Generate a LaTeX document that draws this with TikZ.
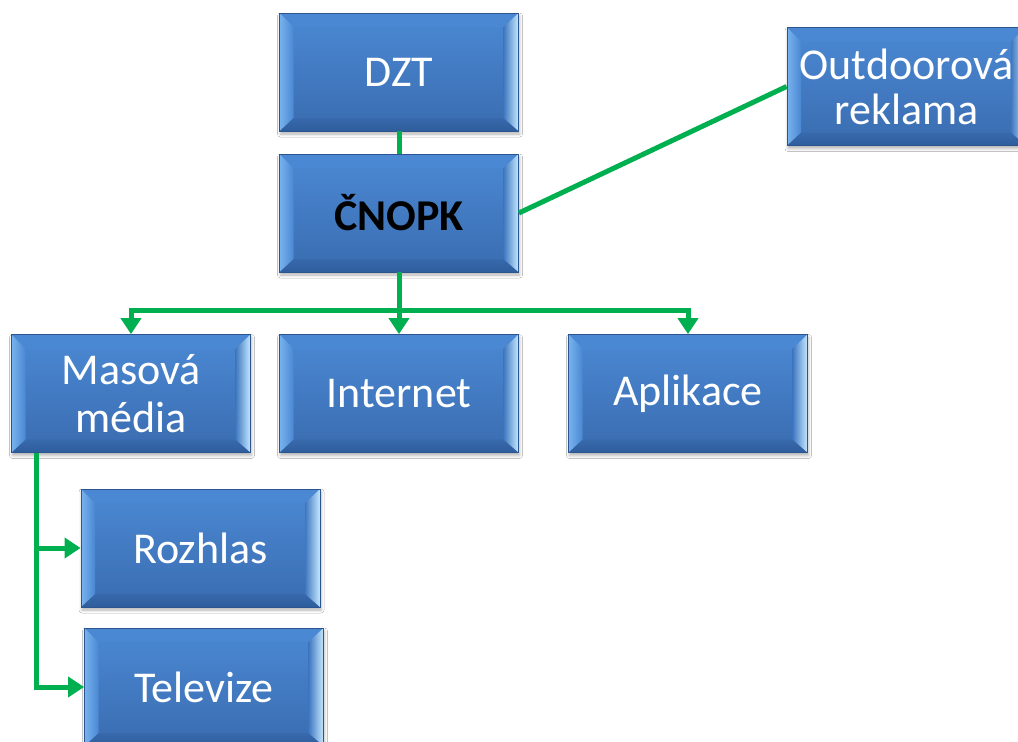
\documentclass[tikz,border=0pt]{standalone}
\usepackage{fontspec}
\setmainfont{Carlito}
\usetikzlibrary{arrows.meta,calc,shadows.blur}
\definecolor{faceT}{HTML}{4B89D4}
\definecolor{faceB}{HTML}{3A6CB0}
\definecolor{edgeC}{HTML}{2C558F}
\definecolor{bevTop}{HTML}{4A88D3}
\definecolor{bevBot}{HTML}{2E5D9C}
\definecolor{bevLo}{HTML}{78B3EE}
\definecolor{bevLi}{HTML}{4A87D2}
\definecolor{bevRi}{HTML}{3F77C0}
\definecolor{bevRm}{HTML}{8CC8FA}
\definecolor{bevRo}{HTML}{C4E8FF}
\definecolor{conn}{HTML}{00B050}
\tikzset{
  bevelbox/.style={rectangle, inner sep=0pt, minimum width=239pt, minimum height=118pt,
    align=center, text=white, font=\fontsize{44}{48}\selectfont,
    top color=faceT, bottom color=faceB, draw=edgeC, line width=0.8pt,
    blur shadow={shadow xshift=1pt, shadow yshift=-3pt, shadow blur radius=3pt, shadow opacity=30},
    path picture={
      \coordinate (pSW) at (path picture bounding box.south west);
      \coordinate (pNE) at (path picture bounding box.north east);
      \coordinate (pNW) at (path picture bounding box.north west);
      \coordinate (pSE) at (path picture bounding box.south east);
      \coordinate (qSW) at ($(pSW)+(14pt,13pt)$);
      \coordinate (qNW) at ($(pNW)+(14pt,-14pt)$);
      \coordinate (qNE) at ($(pNE)+(-15pt,-14pt)$);
      \coordinate (qSE) at ($(pSE)+(-15pt,13pt)$);
      \fill[bevTop] (pNW) -- (pNE) -- (qNE) -- (qNW) -- cycle;
      \shade[top color=faceB!80!bevBot, bottom color=bevBot] (pSW) -- (pSE) -- (qSE) -- (qSW) -- cycle;
      \shade[left color=bevLo, right color=bevLi] (pSW) -- (pNW) -- (qNW) -- (qSW) -- cycle;
      \shade[left color=bevRi, middle color=bevRm, right color=bevRo] (pNE) -- (pSE) -- (qSE) -- (qNE) -- cycle;
    }},
  link/.style={draw=conn, line width=5pt},
  arr/.style={link, -{Triangle[width=20pt,length=16pt]}}
}
\begin{document}
\begin{tikzpicture}[x=1pt,y=-1pt]
\useasboundingbox (0,0) rectangle (1018,742);
\fill[white] (0,0) rectangle (1018,742);
\node[bevelbox] (DZT) at (399,72) {DZT};
\node[bevelbox, font=\fontsize{44}{48}\selectfont\bfseries, text=black] (CNOPK) at (399,213) {ČNOPK};
\node[bevelbox, font=\fontsize{44}{45}\selectfont] (OUT) at (906.5,86.5) {Outdoorová\\reklama};
\node[bevelbox] (MAS) at (131,393.5) {Masová\\média};
\node[bevelbox] (INT) at (399,393.5) {Internet};
\node[bevelbox] (APP) at (688,393.5) {Aplikace};
\node[bevelbox] (ROZ) at (200.5,548) {Rozhlas};
\node[bevelbox] (TEL) at (204,687) {Televize};
\coordinate (bus) at (399,310);
\coordinate (trunk) at (36,687);
\draw[link] (DZT.south) -- (CNOPK.north);
\draw[link] (CNOPK.east) -- (OUT.west);
\draw[link] (CNOPK.south) -- (bus);
\draw[arr] (bus) -| (MAS.north);
\draw[arr] (bus) -| (APP.north);
\draw[arr] (bus) -- (INT.north);
\draw[link] (MAS.south -| trunk) -- (trunk);
\draw[arr] (trunk |- ROZ.west) -- (ROZ.west);
\draw[arr] ([xshift=-2.5pt]trunk) -- (TEL.west);
\end{tikzpicture}
\end{document}
